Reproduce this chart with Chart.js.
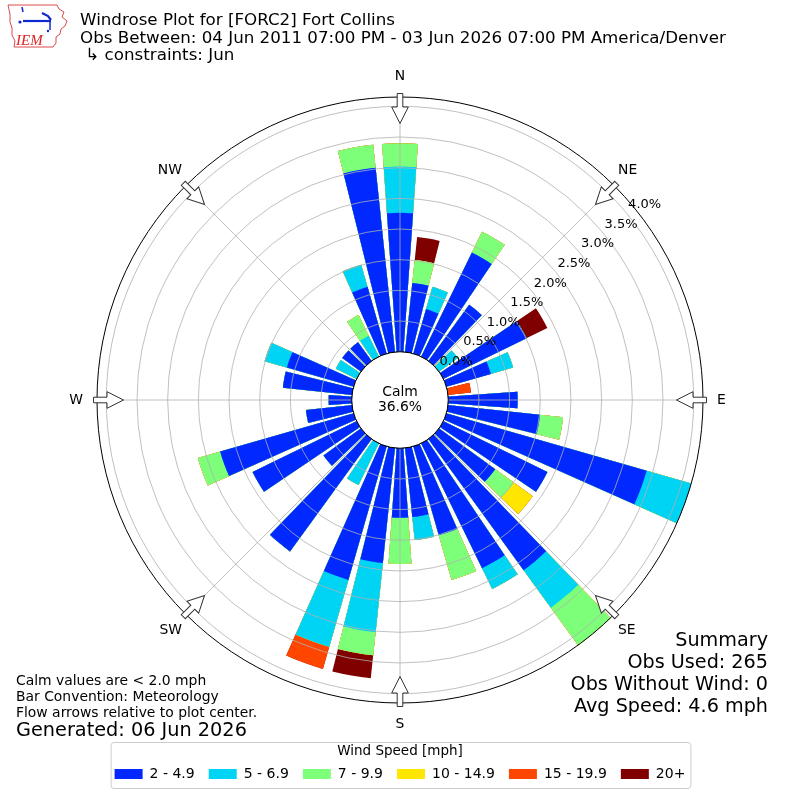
<!DOCTYPE html>
<html>
<head>
<meta charset="utf-8">
<title>Windrose Plot for [FORC2] Fort Collins</title>
<script src="https://cdn.jsdelivr.net/npm/chart.js@4.4.1/dist/chart.umd.min.js"></script>
<style>
  html, body { margin: 0; padding: 0; background: #fff; }
  #wrap { position: relative; width: 800px; height: 800px; font-family: 'DejaVu Sans', sans-serif; color: #000; }
  #rose { position: absolute; left: 0; top: 0; }
  .txt { position: absolute; white-space: pre; }
  #title { left: 80px; top: 11px; font-size: 16.7px; line-height: 17.5px; }
  #notes { left: 16px; top: 672px; font-size: 13.9px; line-height: 16px; }
  #generated { left: 16px; top: 719px; font-size: 19.3px; line-height: 22px; }
  #summary { right: 32px; top: 629px; font-size: 19.2px; line-height: 22px; text-align: right; }
  #logo { position: absolute; left: 6px; top: 4px; }
</style>
</head>
<body>
<div id="wrap">
  <canvas id="rose" width="800" height="800"></canvas>
  <svg id="logo" width="62" height="46" viewBox="0 0 62 46">
    <path d="M2 1 L51 1 L53 5 L58 8 L56 13 L61 17 L59 22 L55 25 L54 30 L50 33 L50 39 L47 43 L8 43 L9 37 L6 31 L6 24 L4 18 L4 10 Z" fill="none" stroke="#d94a4a" stroke-width="1"/>
    <path d="M16 3 L17 8" stroke="#1028d0" stroke-width="1.5"/>
    <circle cx="14" cy="18" r="1.6" fill="#1028d0"/>
    <path d="M17 17 L45 17" stroke="#1028d0" stroke-width="2.2"/>
    <path d="M36 9 L42 12 L45 16" stroke="#1028d0" stroke-width="2.2" fill="none"/>
    <path d="M44 18 L44 26" stroke="#1028d0" stroke-width="1.5"/>
    <circle cx="42" cy="27" r="1.2" fill="#1028d0"/>
    <text x="10" y="41" font-family="Liberation Serif" font-style="italic" font-size="15" fill="#d22">IEM</text>
  </svg>
  <div id="title" class="txt">Windrose Plot for [FORC2] Fort Collins
Obs Between: 04 Jun 2011 07:00 PM - 03 Jun 2026 07:00 PM America/Denver
 ↳ constraints: Jun</div>
  <div id="notes" class="txt">Calm values are &lt; 2.0 mph
Bar Convention: Meteorology
Flow arrows relative to plot center.</div>
  <div id="generated" class="txt">Generated: 06 Jun 2026</div>
  <div id="summary" class="txt">Summary
Obs Used: 265
Obs Without Wind: 0
Avg Speed: 4.6 mph</div>
</div>
<script>
// direction bins (degrees, meteorological) and frequency (%) per speed bin
const directions = [0, 10, 20, 30, 40, 50, 60, 70, 80, 90, 100, 110, 120, 130, 140, 150, 160, 170,
                    180, 190, 200, 210, 220, 230, 240, 250, 260, 270, 280, 290, 300, 310, 320, 330, 340, 350];
const speedBins = ['2 - 4.9', '5 - 6.9', '7 - 9.9', '10 - 14.9', '15 - 19.9', '20+'];
const pct2to5   = [2.264, 1.132, 0.755, 1.887, 1.132, 0, 1.509, 0.755, 0, 1.132, 1.509, 3.396, 1.887, 1.132, 2.642, 2.264, 1.509, 1.132,
                   1.132, 1.887, 2.264, 0, 2.264, 0.755, 1.887, 2.264, 0.755, 0.377, 1.132, 1.132, 0, 0.377, 0.377, 0, 1.132, 3.019];
const pct5to7   = [0.755, 0, 0.377, 0, 0, 0.377, 0, 0.377, 0, 0, 0, 0.755, 0, 0, 0.755, 0.377, 0, 0.377,
                   0, 1.132, 1.132, 0.755, 0, 0, 0, 0, 0, 0, 0, 0.377, 0.377, 0, 0, 0.377, 0.377, 0];
const pct7to10  = [0.377, 0.377, 0, 0.377, 0, 0, 0, 0, 0, 0, 0.377, 0, 0, 0.377, 0.755, 0, 0.755, 0,
                   0.755, 0.377, 0, 0, 0, 0, 0, 0.377, 0, 0, 0, 0, 0, 0, 0, 0.377, 0, 0.377];
const pct10to15 = [0, 0, 0, 0, 0, 0, 0, 0, 0, 0, 0, 0, 0, 0.377, 0, 0, 0, 0,
                   0, 0, 0, 0, 0, 0, 0, 0, 0, 0, 0, 0, 0, 0, 0, 0, 0, 0];
const pct15to20 = [0, 0, 0, 0, 0, 0, 0, 0, 0.377, 0, 0, 0, 0, 0, 0, 0, 0, 0,
                   0, 0, 0.377, 0, 0, 0, 0, 0, 0, 0, 0, 0, 0, 0, 0, 0, 0, 0];
const pct20up   = [0, 0.377, 0, 0, 0, 0, 0.377, 0, 0, 0, 0, 0, 0, 0, 0, 0, 0, 0,
                   0, 0.377, 0, 0, 0, 0, 0, 0, 0, 0, 0, 0, 0, 0, 0, 0, 0, 0];
const calmPct = 36.6;
const rTicks = [0, 0.5, 1.0, 1.5, 2.0, 2.5, 3.0, 3.5, 4.0];
const compassLabels = ['N', 'NE', 'E', 'SE', 'S', 'SW', 'W', 'NW'];

const binColors = ['#0028ff', '#00d4f5', '#7dff7a', '#ffe600', '#ff4600', '#800000'];
const bins = [pct2to5, pct5to7, pct7to10, pct10to15, pct15to20, pct20up];

// stacked (cumulative) values, drawn largest first so the lower bins sit on top
const cumulative = bins.map((b, j) => directions.map((d, i) => bins.slice(0, j + 1).reduce((s, bb) => s + bb[i], 0)));
const rMax = Math.max(...cumulative[cumulative.length - 1]);
const calmHole = 0.1592;                       // calm circle as a fraction of the radius
const rMin = -calmHole * rMax / (1 - calmHole);

// each direction: 8 deg bar + 2 deg gap; N bar split so the sequence starts at 0 deg
const BAR = 8, GAP = 2;
const arcDirs = [0], arcAngles = [BAR / 2];
for (let i = 1; i < directions.length; i++) {
  arcDirs.push(null); arcAngles.push(GAP);
  arcDirs.push(i); arcAngles.push(BAR);
}
arcDirs.push(null); arcAngles.push(GAP);
arcDirs.push(0); arcAngles.push(BAR / 2);

const datasets = speedBins.map((label, j) => ({
  label: label,
  data: arcDirs.map(i => i === null ? rMin : cumulative[j][i]),
  backgroundColor: binColors[j],
  borderWidth: 0,
  angle: c => arcAngles[c.dataIndex]
}));

const labelPad = [9, 5.3, 14, 5.3, 9, 5.3, 14, 5.3];
const tickLabelAngle = 50.2;

const windrosePlugin = {
  id: 'windrose',
  afterDraw(chart) {
    const s = chart.scales.r;
    const ctx = chart.ctx;
    const cx = s.xCenter, cy = s.yCenter;
    const r0 = s.getDistanceFromCenterForValue(0);
    ctx.save();
    // calm circle
    ctx.beginPath();
    ctx.arc(cx, cy, r0, 0, Math.PI * 2);
    ctx.fillStyle = '#fff';
    ctx.fill();
    ctx.lineWidth = 1;
    ctx.strokeStyle = '#000';
    ctx.stroke();
    ctx.fillStyle = '#000';
    ctx.font = '13.9px "DejaVu Sans"';
    ctx.textAlign = 'center';
    ctx.textBaseline = 'middle';
    ctx.fillText('Calm', cx, cy - 8);
    ctx.fillText(calmPct.toFixed(1) + '%', cx, cy + 7);

    // radial tick labels
    const a = tickLabelAngle * Math.PI / 180;
    ctx.font = '13px "DejaVu Sans"';
    ctx.textAlign = 'left';
    ctx.textBaseline = 'alphabetic';
    rTicks.forEach(v => {
      const r = s.getDistanceFromCenterForValue(v);
      ctx.fillText(v.toFixed(1) + '%', cx + r * Math.sin(a) + 2.5, cy - r * Math.cos(a) - 4);
    });

    // flow arrows on the rim
    const R = s.drawingArea;
    compassLabels.forEach((lab, i) => {
      ctx.save();
      ctx.translate(cx, cy);
      ctx.rotate(i * Math.PI / 4);
      const tail = -(R + 3.5), neck = -(R - 10), tip = -(R - 26.5);
      ctx.beginPath();
      ctx.moveTo(-2.8, tail);
      ctx.lineTo(2.8, tail);
      ctx.lineTo(2.8, neck);
      ctx.lineTo(8.3, neck);
      ctx.lineTo(0, tip);
      ctx.lineTo(-8.3, neck);
      ctx.lineTo(-2.8, neck);
      ctx.closePath();
      ctx.fillStyle = '#fff';
      ctx.fill();
      ctx.strokeStyle = '#333';
      ctx.lineWidth = 1;
      ctx.stroke();
      ctx.restore();
    });

    // legend frame
    const lg = chart.legend;
    if (lg && lg.legendHitBoxes.length) {
      const hb = lg.legendHitBoxes;
      const left = Math.min(...hb.map(h => h.left)) - 4;
      const right = Math.max(...hb.map(h => h.left + h.width)) + 5;
      const top = lg.top + 6, bottom = lg.bottom - 3;
      ctx.beginPath();
      ctx.roundRect(left + 0.5, top + 0.5, right - left, bottom - top, 3);
      ctx.strokeStyle = '#cccccc';
      ctx.lineWidth = 1;
      ctx.stroke();
    }
    ctx.restore();
  }
};

Chart.defaults.font.family = "'DejaVu Sans', sans-serif";
Chart.defaults.color = '#000';

new Chart(document.getElementById('rose').getContext('2d'), {
  type: 'polarArea',
  data: { labels: compassLabels, datasets: datasets },
  options: {
    responsive: false,
    animation: false,
    events: [],
    layout: { padding: { top: 64, bottom: 9, left: 0, right: 0 } },
    scales: {
      r: {
        min: rMin,
        max: rMax,
        startAngle: 0,
        beginAtZero: false,
        afterBuildTicks: sc => { sc.ticks = rTicks.concat([rMax]).map(v => ({ value: v })); },
        ticks: { display: false },
        grid: {
          z: 1,
          circular: true,
          color: c => (c.tick && (c.tick.value === rMax || c.tick.value === 0)) ? '#000' : '#b0b0b0',
          lineWidth: c => (c.tick && (c.tick.value === rMax || c.tick.value === 0)) ? 1 : 0.8
        },
        angleLines: { display: true, color: '#b0b0b0', lineWidth: 0.8 },
        pointLabels: {
          display: true,
          centerPointLabels: false,
          color: '#000',
          font: { size: 13.9, lineHeight: '24px' },
          padding: c => labelPad[c.index]
        }
      }
    },
    plugins: {
      tooltip: { enabled: false },
      legend: {
        position: 'bottom',
        align: 'center',
        title: {
          display: true,
          text: 'Wind Speed [mph]',
          color: '#000',
          font: { size: 13.5, lineHeight: '8px' },
          padding: { top: 9, bottom: 0 }
        },
        labels: {
          boxWidth: 28,
          boxHeight: 10,
          padding: 14,
          color: '#000',
          font: { size: 14 },
          generateLabels: () => speedBins.map((t, i) => ({
            text: t, fillStyle: binColors[i], strokeStyle: binColors[i], lineWidth: 0, hidden: false, datasetIndex: i
          }))
        }
      }
    }
  },
  plugins: [windrosePlugin]
});
</script>
</body>
</html>
